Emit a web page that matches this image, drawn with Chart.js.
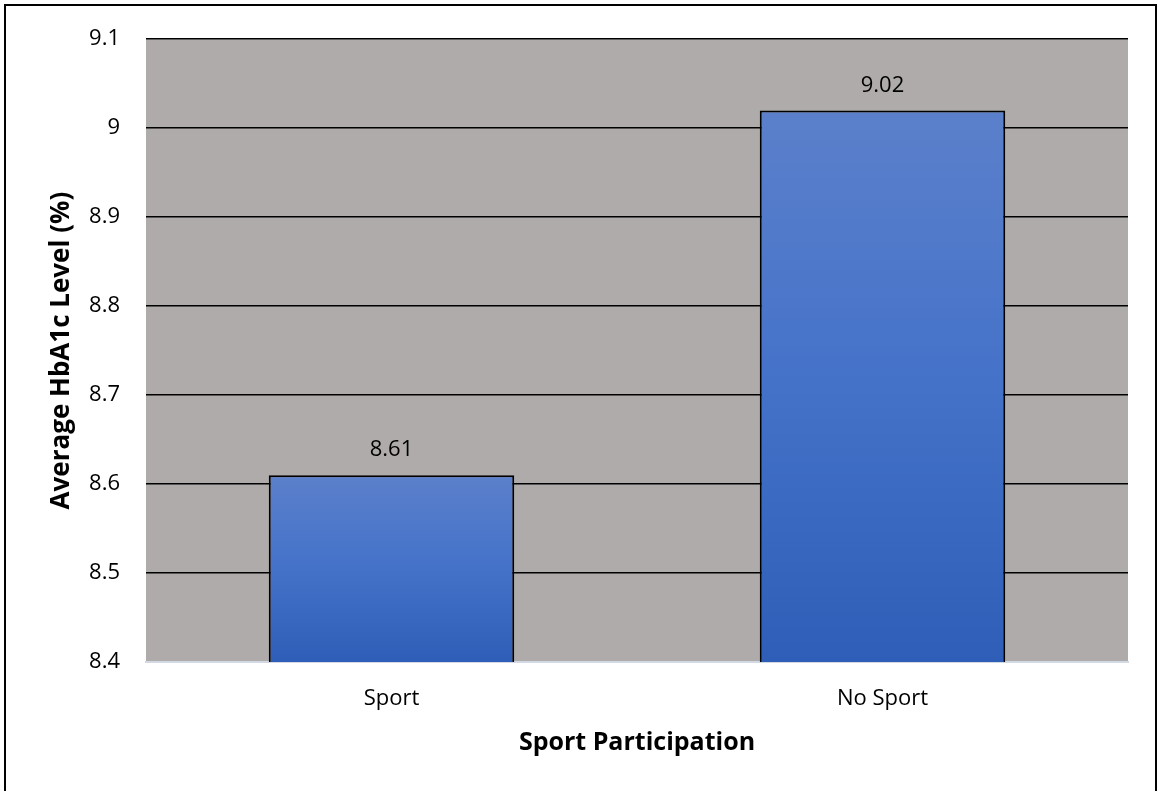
<!DOCTYPE html>
<html>
<head>
<meta charset="utf-8">
<script src="https://cdn.jsdelivr.net/npm/chart.js@4"></script>
<style>
  html, body { margin: 0; padding: 0; background: #ffffff; }
  #wrap { width: 1157px; height: 791px; position: relative; }
</style>
</head>
<body>
<div id="wrap"><canvas id="mainChart" width="1157" height="791"></canvas></div>
<script>
// Chart data
const categories = ['Sport', 'No Sport'];
const hba1cValues = [8.61, 9.02];
const yTicks = [8.4, 8.5, 8.6, 8.7, 8.8, 8.9, 9.0, 9.1];

const FONT = "'Open Sans', sans-serif";

// Grey plot background + outer frame + value labels
const decorPlugin = {
    id: 'decor',
    beforeDraw(chart) {
        const { ctx, chartArea } = chart;
        ctx.save();
        ctx.fillStyle = '#AFABAB';
        ctx.fillRect(chartArea.left, chartArea.top, chartArea.right - chartArea.left, chartArea.bottom - chartArea.top);
        ctx.restore();
    },
    afterDraw(chart) {
        const { ctx } = chart;
        ctx.save();
        // outer frame
        ctx.strokeStyle = '#000000';
        ctx.lineWidth = 2;
        ctx.strokeRect(5, 5, chart.width - 6, chart.height + 10);
        // value labels
        const meta = chart.getDatasetMeta(0);
        ctx.fillStyle = '#000000';
        ctx.font = '22px ' + FONT;
        ctx.textAlign = 'center';
        ctx.textBaseline = 'middle';
        meta.data.forEach((bar, i) => {
            ctx.fillText(hba1cValues[i].toFixed(2), bar.x, bar.y - 25);
        });
        ctx.restore();
    }
};

// Vertical gradient per bar, lighter at top
function barGradient(context) {
    const chart = context.chart;
    if (!chart.chartArea) return '#4472C4';
    const y = chart.scales.y;
    const v = context.raw;
    const top = y.getPixelForValue(v);
    const bottom = y.getPixelForValue(y.min);
    const g = chart.ctx.createLinearGradient(0, top, 0, bottom);
    g.addColorStop(0, '#5B80CB');
    g.addColorStop(0.5, '#4472C9');
    g.addColorStop(1, '#2E5EB7');
    return g;
}

new Chart(document.getElementById('mainChart'), {
    type: 'bar',
    data: {
        labels: categories,
        datasets: [{
            data: hba1cValues,
            backgroundColor: barGradient,
            borderColor: '#000000',
            borderWidth: { top: 2, left: 2, right: 2, bottom: 0 },
            borderSkipped: 'bottom',
            barPercentage: 0.5,
            categoryPercentage: 1.0
        }]
    },
    plugins: [decorPlugin],
    options: {
        responsive: false,
        animation: false,
        layout: { padding: { top: 32, right: 29, left: 0, bottom: 0 } },
        plugins: {
            legend: { display: false },
            tooltip: { enabled: false }
        },
        scales: {
            x: {
                grid: { display: false, drawTicks: false },
                border: { display: true, color: '#D3D9E3', width: 2 },
                ticks: { color: '#000000', font: { family: FONT, size: 22 }, padding: 24 },
                title: {
                    display: true,
                    text: 'Sport Participation',
                    color: '#000000',
                    font: { family: FONT, size: 25, weight: 'bold' },
                    padding: { top: 0, bottom: 33 }
                },
                afterFit(scale) { scale.height = 129; }
            },
            y: {
                min: 8.4,
                max: 9.1,
                afterBuildTicks(scale) { scale.ticks = yTicks.map(v => ({ value: v })); },
                grid: { color: '#000000', lineWidth: 1.5, drawTicks: false },
                border: { display: false },
                ticks: {
                    color: '#000000',
                    font: { family: FONT, size: 22 },
                    padding: 26,
                    callback: v => (Math.round(v * 10) / 10).toString()
                },
                title: {
                    display: true,
                    text: 'Average HbA1c Level (%)',
                    color: '#000000',
                    font: { family: FONT, size: 26, weight: 'bold' },
                    padding: { top: 46, bottom: 0 }
                },
                afterFit(scale) { scale.width = 146; }
            }
        }
    }
});
</script>
</body>
</html>
